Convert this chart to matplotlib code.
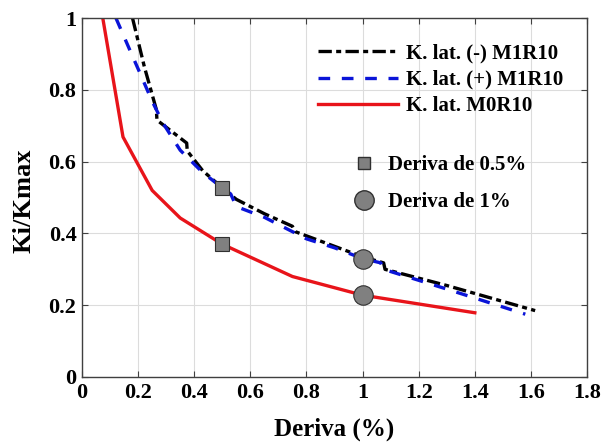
import numpy as np
import matplotlib.pyplot as plt
from matplotlib.lines import Line2D

plt.rcParams['font.family'] = ['Liberation Serif', 'DejaVu Serif']
plt.rcParams['font.weight'] = 'bold'

# K. lat. (-) M1R10
neg_x = [0.18, 0.222, 0.265, 0.267, 0.373, 0.375, 0.43, 0.50, 0.55, 0.65, 0.75, 0.76, 0.88, 1.00, 1.075, 1.08, 1.30, 1.615]
neg_y = [1.00, 0.865, 0.745, 0.716, 0.652, 0.63, 0.575, 0.527, 0.495, 0.455, 0.42, 0.405, 0.37, 0.335, 0.318, 0.300, 0.255, 0.185]

# K. lat. (+) M1R10
pos_x = [0.121, 0.171, 0.207, 0.249, 0.289, 0.35, 0.43, 0.50, 0.53, 0.55, 0.65, 0.80, 0.90, 1.00, 1.065, 1.075, 1.30, 1.58]
pos_y = [1.00, 0.91, 0.846, 0.77, 0.707, 0.632, 0.57, 0.527, 0.51, 0.475, 0.445, 0.385, 0.36, 0.33, 0.318, 0.300, 0.245, 0.175]

# K. lat. M0R10
m0_x = [0.074, 0.146, 0.25, 0.35, 0.50, 0.75, 1.00, 1.40]
m0_y = [1.00, 0.669, 0.52, 0.443, 0.37, 0.28, 0.228, 0.179]

# drift markers
sq_x = [0.5, 0.5]
sq_y = [0.527, 0.37]
ci_x = [1.0, 1.0]
ci_y = [0.33, 0.228]

fig = plt.figure(figsize=(6.14, 4.43), dpi=100)
ax = fig.add_axes([0.1336, 0.149, 0.8225, 0.81])

l1, = ax.plot(neg_x, neg_y, color='black', lw=2.4, dashes=(4, 1.3, 1.5, 1.3), label='K. lat. (-) M1R10')
l2, = ax.plot(pos_x, pos_y, color='#0a14d8', lw=2.4, dashes=(3.5, 3.5), label='K. lat. (+) M1R10')
l3, = ax.plot(m0_x, m0_y, color='#e8141a', lw=2.4, label='K. lat. M0R10')
ax.plot(sq_x, sq_y, 's', ms=10, mfc='#808080', mec='#303030', mew=0.8, ls='none', zorder=5)
ax.plot(ci_x, ci_y, 'o', ms=14, mfc='#808080', mec='#303030', mew=0.8, ls='none', zorder=5)

ax.set_xlim(0, 1.8)
ax.set_ylim(0, 1)
ax.set_xticks(np.arange(0, 1.81, 0.2))
ax.set_yticks(np.arange(0, 1.01, 0.2))
ax.set_xticklabels(['0', '0.2', '0.4', '0.6', '0.8', '1', '1.2', '1.4', '1.6', '1.8'])
ax.set_yticklabels(['0', '0.2', '0.4', '0.6', '0.8', '1'])
ax.grid(True, color='#dcdcdc', lw=0.8)
ax.tick_params(direction='in', top=True, right=True, labelsize=16, length=4, color='#404040', pad=4)
for s in ax.spines.values():
    s.set_color('#404040')
    s.set_linewidth(1.0)

ax.set_xlabel('Deriva (%)', fontsize=18, fontweight='bold')
ax.set_ylabel('Ki/Kmax', fontsize=19, fontweight='bold')
ax.yaxis.set_label_coords(-0.093, 0.49)
ax.xaxis.set_label_coords(0.5, -0.112)

leg1 = ax.legend(handles=[l1, l2, l3], loc='upper left', bbox_to_anchor=(0.467, 0.929), frameon=False,
                 fontsize=15, handlelength=3.85, handletextpad=0.4, labelspacing=0.3, borderpad=0,
                 borderaxespad=0)
ax.add_artist(leg1)
h_sq = Line2D([], [], marker='s', ms=9, mfc='#808080', mec='#303030', ls='none')
h_ci = Line2D([], [], marker='o', ms=14, mfc='#808080', mec='#303030', ls='none')
ax.legend(handles=[h_sq, h_ci], labels=['Deriva de 0.5%', 'Deriva de 1%'], loc='upper left',
          bbox_to_anchor=(0.537, 0.618), frameon=False, fontsize=15, handlelength=1.0,
          handletextpad=0.65, labelspacing=0.8, borderpad=0, borderaxespad=0)

fig.savefig('out.png', dpi=100)
